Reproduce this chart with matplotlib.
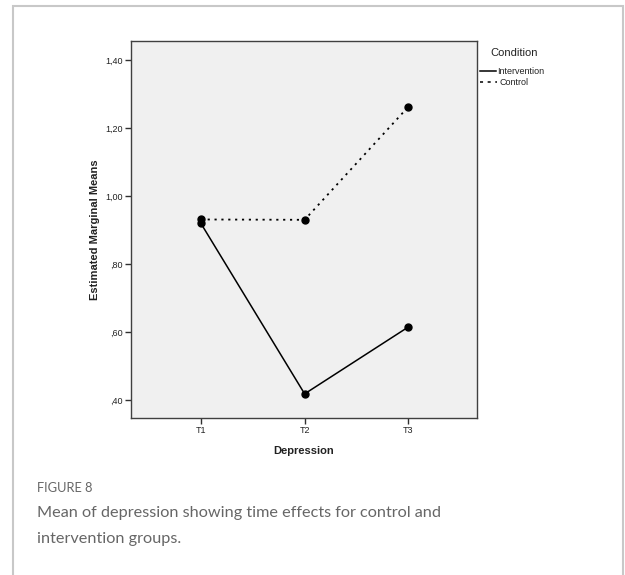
import matplotlib
matplotlib.use("Agg")
import matplotlib.pyplot as plt
from matplotlib.lines import Line2D
from matplotlib.patches import Rectangle

# Data
time_points = ["T1", "T2", "T3"]
intervention = [0.920, 0.418, 0.615]
control = [0.931, 0.930, 1.263]
y_ticks = [0.40, 0.60, 0.80, 1.00, 1.20, 1.40]
y_tick_labels = [",40", ",60", ",80", "1,00", "1,20", "1,40"]

W, H = 625, 575
fig = plt.figure(figsize=(W / 100, H / 100), dpi=100)
fig.patch.set_facecolor("white")


def px(x, y):
    return x / W, 1 - y / H


# Outer light-gray frame
fig.patches.append(Rectangle(px(12.5, 620), (623 - 12.5) / W, (620 - 5.5) / H,
                             transform=fig.transFigure, fill=False,
                             edgecolor="#c8c8c8", linewidth=1.5))

ax = fig.add_axes([130.7 / W, 1 - 418 / H, (477 - 130.7) / W, (418 - 41) / H])
ax.set_facecolor("#f0f0f0")
x = list(range(len(time_points)))

ax.plot(x, intervention, color="black", linewidth=1.1, linestyle="-",
        marker="o", markersize=5, markerfacecolor="black", markeredgecolor="black")
ax.plot(x, control, color="black", linewidth=1.3, linestyle=(0, (1.2, 2.6)),
        marker="o", markersize=5, markerfacecolor="black", markeredgecolor="black")

ax.set_xlim(-0.675, 2.66)
ax.set_ylim(0.347, 1.456)
ax.set_xticks(x)
ax.set_xticklabels(time_points)
ax.set_yticks(y_ticks)
ax.set_yticklabels(y_tick_labels)

for sp in ax.spines.values():
    sp.set_color("#404040")
    sp.set_linewidth(1.0)
ax.tick_params(axis="both", direction="out", length=4, width=1.0,
               color="#303030", labelsize=6.5, labelcolor="#222222", pad=1.5)
for lab in ax.get_xticklabels() + ax.get_yticklabels():
    lab.set_fontfamily("Liberation Sans")

ax.set_xlabel("Depression", fontsize=8, fontweight="bold",
              fontfamily="Liberation Sans", color="#222222", labelpad=8)
ax.set_ylabel("Estimated Marginal Means", fontsize=8, fontweight="bold",
              fontfamily="Liberation Sans", color="#222222", labelpad=4)

# Legend
fig.text(*px(490, 53), "Condition", fontsize=8, fontfamily="Liberation Sans",
         color="#222222", va="center", ha="left")
fig.lines.append(Line2D([480 / W, 496 / W], [1 - 71 / H] * 2, transform=fig.transFigure,
                        color="black", linewidth=1.1))
fig.text(*px(497, 71.5), "Intervention", fontsize=6.5, fontfamily="Liberation Sans",
         color="#222222", va="center", ha="left")
fig.lines.append(Line2D([480 / W, 497 / W], [1 - 82 / H] * 2, transform=fig.transFigure,
                        color="black", linewidth=1.1, linestyle=(0, (2, 3))))
fig.text(*px(499, 82.5), "Control", fontsize=6.5, fontfamily="Liberation Sans",
         color="#222222", va="center", ha="left")

# Caption
fig.text(*px(37, 488), "FIGURE 8", fontsize=9.3, fontfamily="Lato",
         color="#666666", va="center", ha="left")
fig.text(*px(37, 513), "Mean of depression showing time effects for control and",
         fontsize=11.7, fontfamily="Lato", color="#666666", va="center", ha="left")
fig.text(*px(37, 539), "intervention groups.",
         fontsize=11.7, fontfamily="Lato", color="#666666", va="center", ha="left")

fig.savefig("out.png", dpi=100)
